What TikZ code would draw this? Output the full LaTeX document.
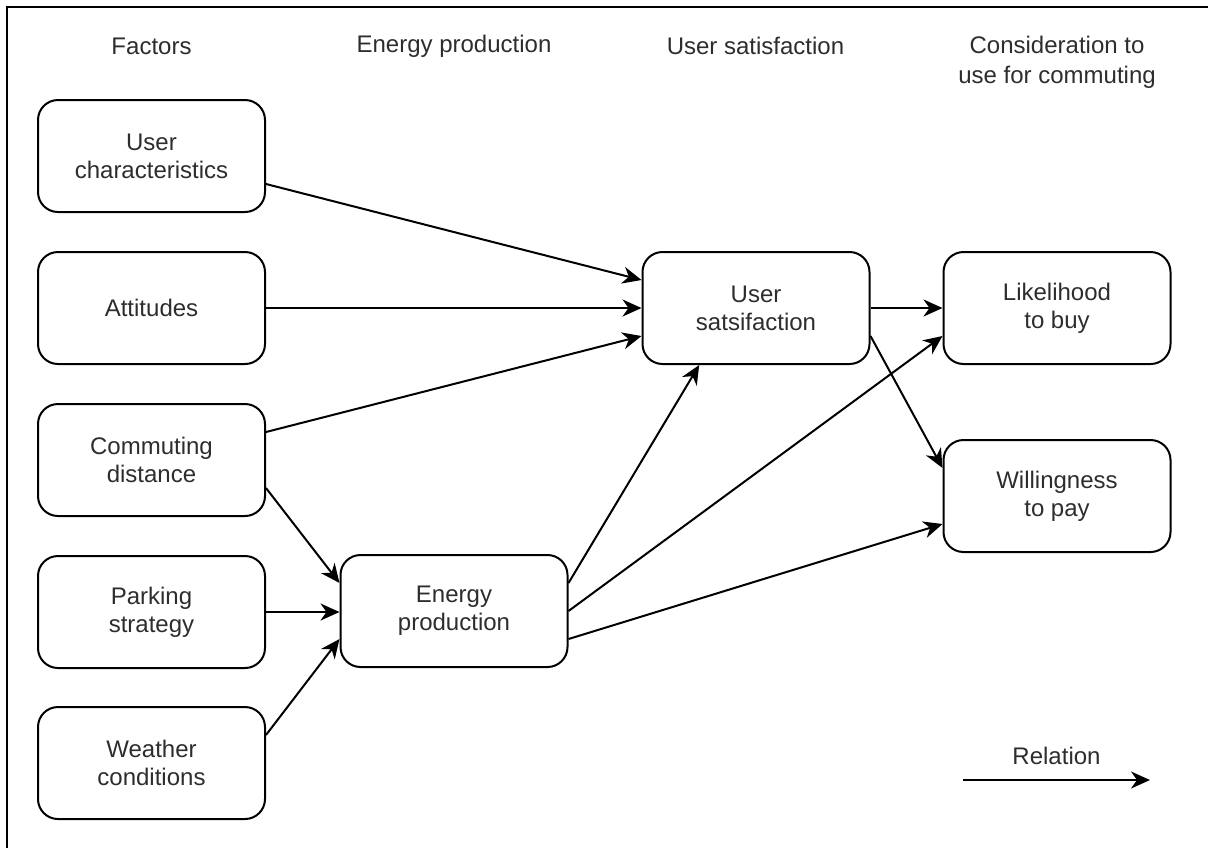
\documentclass[tikz,border=0pt]{standalone}
\usepackage{fontspec}
\setmainfont{Liberation Sans}
\usetikzlibrary{arrows.meta,calc}
\definecolor{txt}{RGB}{45,45,45}
\tikzset{
  box/.style={draw=black, line width=1pt, rounded corners=10pt, minimum width=113.5pt, minimum height=56pt, align=center, text=txt, font=\fontsize{12}{14}\selectfont, inner sep=0pt},
  head/.style={align=center, text=txt, font=\fontsize{12}{15}\selectfont, inner sep=0pt},
  rel/.style={draw=black, line width=1pt, -{Stealth[length=9.5pt,width=8.5pt,inset=3pt]}},
}
\begin{document}
\begin{tikzpicture}[x=0.5pt,y=-0.5pt]
\useasboundingbox (0,0) rectangle (1208,848);
\draw[line width=1pt] (7,848) -- (7,7) -- (1208,7);
% headers
\node[head] (h1) at (151.5,46) {Factors};
\node[head] (h2) at (454,46) {Energy production};
\node[head] (h3) at (755.5,46) {User satisfaction};
\node[head] (h4) at (1057,62) {Consideration to\\use for commuting};
% boxes
\node[box] (uc) at (151.5,156) {User\\characteristics};
\node[box] (att) at (151.5,308) {Attitudes};
\node[box] (cd) at (151.5,460) {Commuting\\distance};
\node[box] (ps) at (151.5,612) {Parking\\strategy};
\node[box] (wc) at (151.5,763) {Weather\\conditions};
\node[box] (ep) at (454,611) {Energy\\production};
\node[box] (us) at (756,308) {User\\satsifaction};
\node[box] (lb) at (1057,308) {Likelihood\\to buy};
\node[box] (wp) at (1057,496) {Willingness\\to pay};
% relations
\draw[rel] ([yshift=-14pt]uc.east) -- ([yshift=14pt]us.west);
\draw[rel] (att.east) -- (us.west);
\draw[rel] ([yshift=14pt]cd.east) -- ([yshift=-14pt]us.west);
\draw[rel] ([yshift=-14pt]cd.east) -- ([yshift=14pt]ep.west);
\draw[rel] (ps.east) -- (ps.east -| ep.west);
\draw[rel] ([yshift=14pt]wc.east) -- ([yshift=-14pt]ep.west);
\draw[rel] ([yshift=14pt]ep.east) -- ([xshift=-28.4pt]us.south);
\draw[rel] (ep.east) -- ([yshift=-14pt]lb.west);
\draw[rel] ([yshift=-14pt]ep.east) -- ([yshift=-14pt]wp.west);
\draw[rel] (us.east) -- (lb.west);
\draw[rel] ([yshift=-14pt]us.east) -- ([yshift=14pt]wp.west);
% legend
\coordinate (la) at (963,780);
\coordinate (lz) at (1150,780);
\draw[rel] (la) -- node[above=7pt, head, inner sep=0pt] (lt) {Relation} (lz);
\end{tikzpicture}
\end{document}
